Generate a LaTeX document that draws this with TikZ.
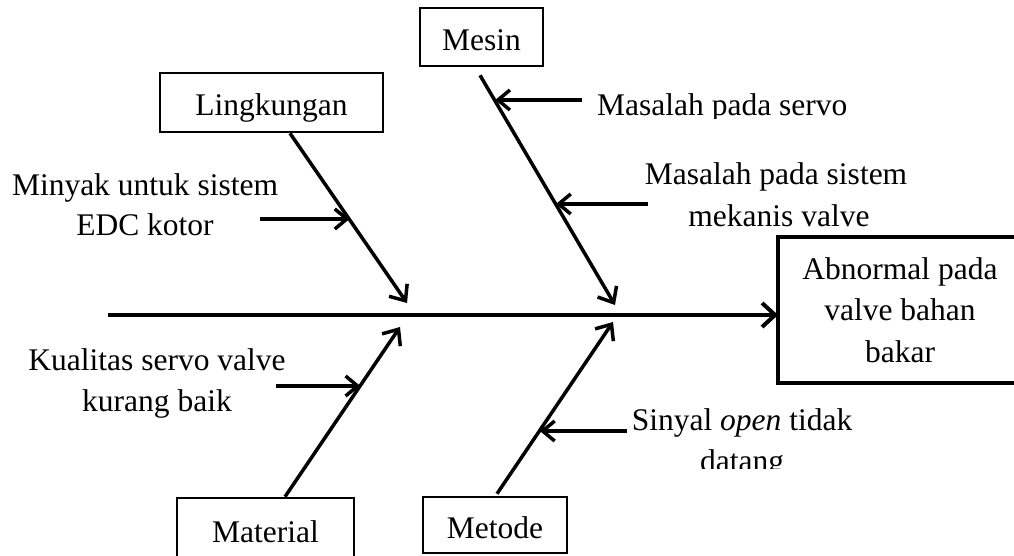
\documentclass[tikz,border=0pt]{standalone}
\usepackage{fontspec}
\setmainfont{Liberation Serif}
\usetikzlibrary{arrows.meta,calc}
\begin{document}
\begin{tikzpicture}[x=1pt,y=-1pt,
  every node/.style={font=\fontsize{31.5}{41.5}\selectfont,inner sep=0pt},
  catbox/.style={draw,line width=2.5pt,text height=26pt,text depth=0pt},
  effbox/.style={align=center},
  effline/.style={line width=4pt,line join=miter},
  spine/.style={line width=4pt,-{Straight Barb[length=13pt,width=24pt]}},
  bone/.style={line width=3.5pt,-{Straight Barb[length=13pt,width=22pt]}},
  sub/.style={line width=3.5pt,-{Straight Barb[length=12pt,width=20pt]}},
  lbl/.style={anchor=base}
]
\useasboundingbox (0,0) rectangle (1014,555);
\clip (0,0) rectangle (1014,555);
\fill[white] (0,0) rectangle (1014,555);

% category boxes
\node[catbox,minimum width=123pt,minimum height=58pt] (mesin) at (481.5,37) {Mesin};
\node[catbox,minimum width=223pt,minimum height=59pt] (ling) at (271.5,102.5) {Lingkungan};
\node[catbox,minimum width=177pt,minimum height=62pt] (mat) at (265.5,529) {Material};
\node[catbox,minimum width=144pt,minimum height=56pt] (met) at (495,525) {Metode};

% effect (box runs past the right edge of the picture)
\node[effbox,minimum width=244pt,minimum height=146pt] (eff) at (900,310)
  {Abnormal pada\\valve bahan\\bakar};
\draw[effline] ([xshift=20pt]eff.north east) -- (eff.north west -| 778,0)
  -- (eff.south west -| 778,0) -- ([xshift=20pt]eff.south east);

% spine
\coordinate (tail) at (108,315);
\coordinate (head) at (778,315);
\draw[spine] (tail) -- (head);

% bones
\coordinate (m0) at ($(mesin.south)+(-1.5,8)$);
\coordinate (m1) at (615,305);
\coordinate (l0) at ($(ling.south)+(18.5,0)$);
\coordinate (l1) at (407,303);
\coordinate (a0) at ($(mat.north)+(19.5,0)$);
\coordinate (a1) at (400,327);
\coordinate (t0) at ($(met.north)+(2,-2)$);
\coordinate (t1) at (613,322);
\draw[bone] (m0) -- (m1);
\draw[bone] (l0) -- (l1);
\draw[bone] (a0) -- (a1);
\draw[bone] (t0) -- (t1);

% sub-cause arrows
\coordinate (lA) at ($(l0)!0.509!(l1)$);
\coordinate (lAt) at (260,219);
\draw[sub] (lAt) -- (lAt -| lA);

\coordinate (mA) at ($(m0)!0.1126!(m1)$);
\coordinate (mAt) at (582,100);
\draw[sub] (mAt) -- (mAt -| mA);

\coordinate (mB) at ($(m0)!0.5628!(m1)$);
\coordinate (mBt) at (648,204);
\draw[sub] (mBt) -- (mBt -| mB);

\coordinate (aA) at ($(a0)!0.655!(a1)$);
\coordinate (aAt) at (276,386);
\draw[sub] (aAt) -- (aAt -| aA);

\coordinate (tA) at ($(t0)!0.37!(t1)$);
\coordinate (tAt) at (627,431);
\draw[sub] (tAt) -- (tAt -| tA);

% labels
\node[lbl] (ml1) at (145,195) {Minyak untuk sistem};
\node[lbl] (ml2) at (145,235) {EDC kotor};

\begin{scope}
  \clip (590,75) rectangle (870,118);
  \node[anchor=base west] (ms1) at (597,115) {Masalah pada servo};
\end{scope}

\node[lbl] (ms2) at (776,184) {Masalah pada sistem};
\node[lbl] (ms3) at (779,226) {mekanis valve};

\node[lbl] (ka1) at (157,370) {Kualitas servo valve};
\node[lbl] (ka2) at (157,411) {kurang baik};

\begin{scope}
  \clip (620,395) rectangle (880,468);
  \node[lbl] (si1) at (742,430) {Sinyal \textit{open} tidak};
  \node[lbl] (si2) at (742,471) {datang};
\end{scope}
\end{tikzpicture}
\end{document}
